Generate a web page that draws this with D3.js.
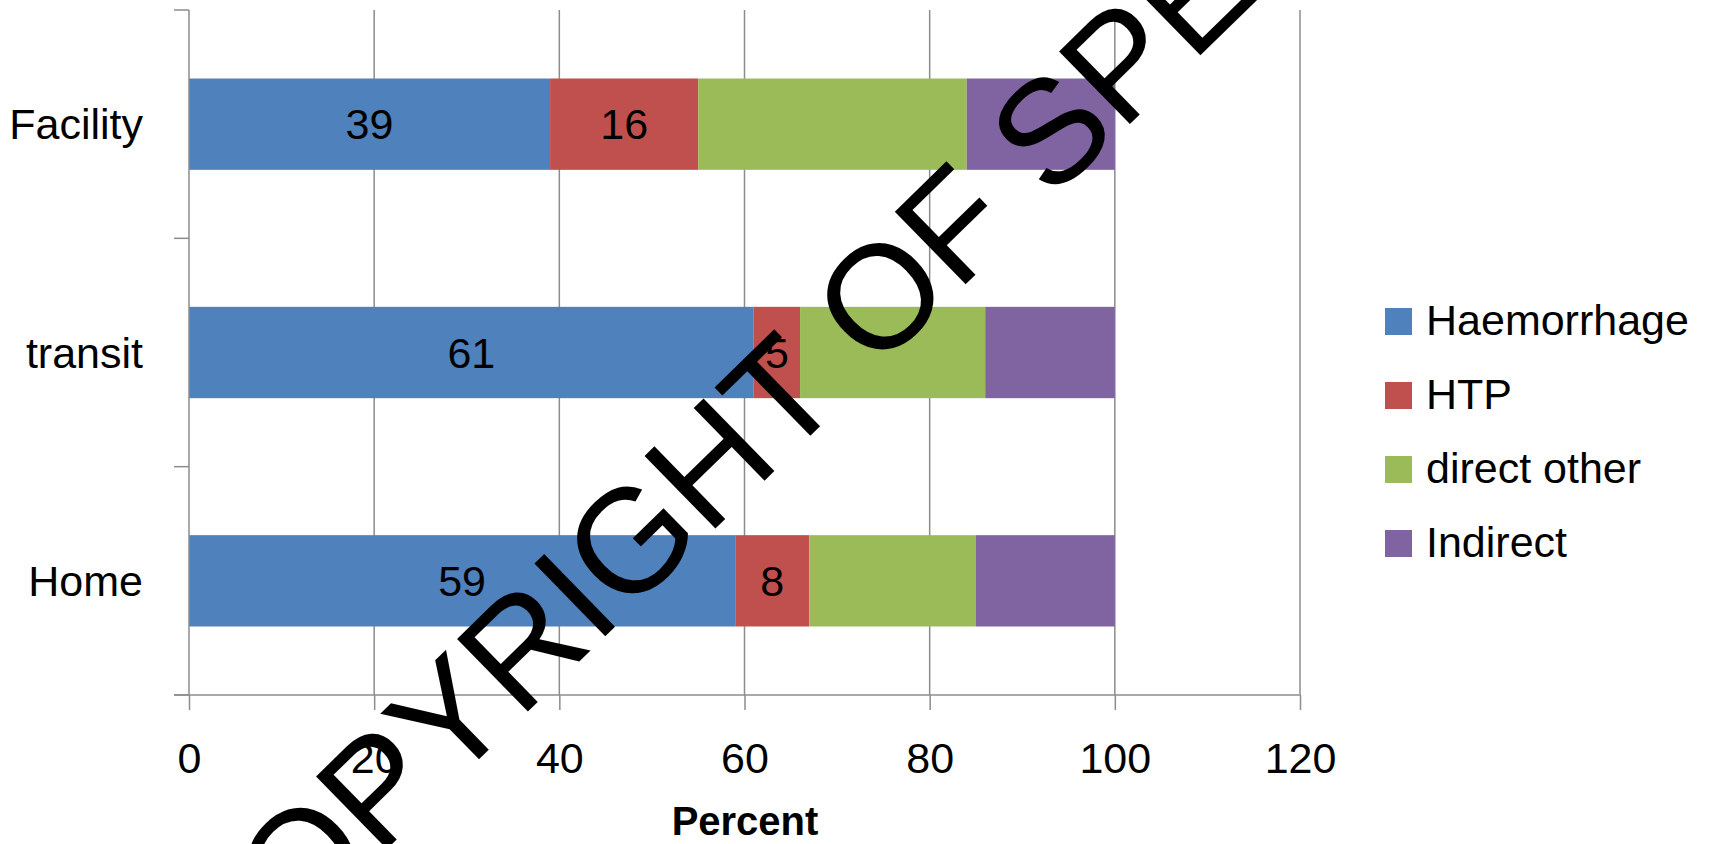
<!DOCTYPE html>
<html>
<head>
<meta charset="utf-8">
<script src="https://cdn.jsdelivr.net/npm/d3@7"></script>
<style>
  html, body { margin: 0; padding: 0; background: #ffffff; }
  svg { display: block; }
</style>
</head>
<body>
<svg id="chart" width="1713" height="844"></svg>
<script>
// ---- data ----
const categories = ["Facility", "transit", "Home"];
const seriesNames = ["Haemorrhage", "HTP", "direct other", "Indirect"];
const haemorrhage = [39, 61, 59];
const htp = [16, 5, 8];
const directOther = [29, 20, 18];
const indirect = [16, 14, 15];
const labeledSeries = ["Haemorrhage", "HTP"];
const xTicks = [0, 20, 40, 60, 80, 100, 120];
const xTitle = "Percent";
const watermark = "COPYRIGHT OF SPE";

const colors = ["#4F81BD", "#C0504D", "#9BBB59", "#8064A2"];

const rows = categories.map((c, i) => ({
  cat: c,
  "Haemorrhage": haemorrhage[i],
  "HTP": htp[i],
  "direct other": directOther[i],
  "Indirect": indirect[i]
}));

const svg = d3.select("#chart");
const font = "'Liberation Sans', Arial, sans-serif";
const fs = 43;

const x = d3.scaleLinear().domain([0, 120]).range([189, 1300]);
const y = d3.scaleBand().domain(categories).range([10, 695])
  .paddingInner(0.6).paddingOuter(0.3);
const color = d3.scaleOrdinal().domain(seriesNames).range(colors);

const gridColor = "#8c8c8c";

// gridlines
svg.append("g").selectAll("line")
  .data(xTicks.filter(d => d > 0))
  .join("line")
  .attr("x1", d => x(d)).attr("x2", d => x(d))
  .attr("y1", 10).attr("y2", 695)
  .attr("stroke", gridColor).attr("stroke-width", 1.5);

// stacked bars
const stacked = d3.stack().keys(seriesNames)(rows);
const layers = svg.append("g").selectAll("g")
  .data(stacked).join("g")
  .attr("fill", d => color(d.key));
layers.selectAll("rect")
  .data(d => d.map(v => ({ key: d.key, v })))
  .join("rect")
  .attr("x", d => x(d.v[0]))
  .attr("width", d => x(d.v[1]) - x(d.v[0]))
  .attr("y", d => y(d.v.data.cat))
  .attr("height", y.bandwidth());

// data labels
const labelG = svg.append("g");
stacked.filter(s => labeledSeries.includes(s.key)).forEach(s => {
  labelG.selectAll(null)
    .data(s)
    .join("text")
    .attr("x", d => x((d[0] + d[1]) / 2))
    .attr("y", d => y(d.data.cat) + y.bandwidth() / 2 + 15)
    .attr("text-anchor", "middle")
    .attr("font-family", font).attr("font-size", fs)
    .attr("fill", "#000")
    .text(d => d[1] - d[0]);
});

// x axis
const xAxis = d3.axisBottom(x).tickValues(xTicks).tickSize(15).tickPadding(32)
  .tickFormat(d3.format("d"));
const xg = svg.append("g").attr("transform", "translate(0,695)").call(xAxis);
xg.select(".domain").attr("stroke", gridColor).attr("stroke-width", 1.5)
  .attr("d", `M${x(0) - 15},0H${x(120)}`);
xg.selectAll(".tick line").attr("stroke", gridColor).attr("stroke-width", 1.5);
xg.selectAll(".tick text").attr("font-family", font).attr("font-size", fs).attr("fill", "#000");

// y axis
const yg = svg.append("g");
yg.append("line")
  .attr("x1", x(0)).attr("x2", x(0))
  .attr("y1", 10).attr("y2", 695)
  .attr("stroke", gridColor).attr("stroke-width", 1.5);
const bounds = d3.range(categories.length + 1).map(i => y.range()[0] + i * y.step());
yg.selectAll("line.tk").data(bounds).join("line").attr("class", "tk")
  .attr("x1", x(0) - 15).attr("x2", x(0))
  .attr("y1", d => d).attr("y2", d => d)
  .attr("stroke", gridColor).attr("stroke-width", 1.5);
yg.selectAll("text").data(categories).join("text")
  .attr("x", 143)
  .attr("y", d => y(d) + y.bandwidth() / 2 + 15)
  .attr("text-anchor", "end")
  .attr("font-family", font).attr("font-size", fs).attr("fill", "#000")
  .text(d => d);

// x title
svg.append("text")
  .attr("x", 745).attr("y", 835)
  .attr("text-anchor", "middle")
  .attr("font-family", font).attr("font-size", 40).attr("font-weight", "bold")
  .attr("fill", "#000")
  .text(xTitle);

// legend
const lg = svg.append("g");
const legendItems = lg.selectAll("g").data(seriesNames).join("g")
  .attr("transform", (d, i) => `translate(1385,${308 + i * 74})`);
legendItems.append("rect").attr("width", 27).attr("height", 27)
  .attr("fill", d => color(d));
legendItems.append("text").attr("x", 41).attr("y", 27)
  .attr("font-family", font).attr("font-size", fs).attr("fill", "#000")
  .text(d => d);

// watermark
svg.append("text")
  .attr("transform", "translate(220,1012) rotate(-44.3)")
  .attr("font-family", font).attr("font-size", 147.5)
  .attr("fill", "#000")
  .text(watermark);
</script>
</body>
</html>
